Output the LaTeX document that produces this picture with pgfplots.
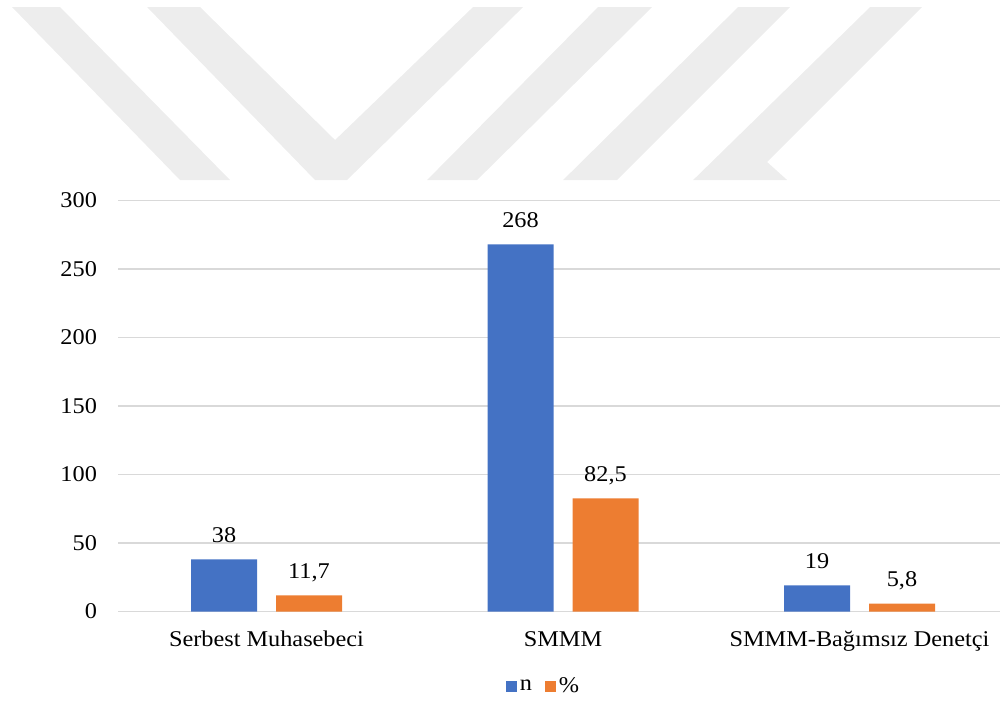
\documentclass[border=0pt]{standalone}
\usepackage{pgfplots}
\pgfplotsset{compat=1.18}
\usepackage{fontspec}
\setmainfont{Liberation Serif}[FakeStretch=1.08]
\definecolor{cblue}{HTML}{4472C4}
\definecolor{corange}{HTML}{ED7D31}
\definecolor{wm}{HTML}{EDEDED}
\definecolor{gridc}{HTML}{D9D9D9}
\begin{document}
\begin{tikzpicture}[font=\fontsize{12.8}{15}\selectfont]
\useasboundingbox (0,0) rectangle (20cm,-14.02cm);
\begin{scope}[x=0.02cm,y=-0.02cm]
\fill[wm] (12,7) -- (60,7) -- (230,180) -- (180,180) -- cycle;
\fill[wm] (147,7) -- (200,7) -- (335,140) -- (473,7) -- (523,7) -- (347,180) -- (315,180) -- cycle;
\fill[wm] (598,7) -- (652,7) -- (477,180) -- (427,180) -- cycle;
\fill[wm] (738,7) -- (790,7) -- (617,180) -- (563,180) -- cycle;
\fill[wm] (870,7) -- (922,7) -- (767,162) -- (787,180) -- (693,180) -- cycle;
\end{scope}
\begin{axis}[
  at={(2.365cm,-12.23cm)}, anchor=south west,
  scale only axis, width=17.79cm, height=8.22cm,
  ybar=0.38cm, bar width=1.32cm,
  ymin=0, ymax=300, ytick={0,50,...,300},
  xmin=-0.5, xmax=2.5, xtick={0,1,2},
  xticklabels={Serbest Muhasebeci, SMMM, SMMM-Bağımsız Denetçi},
  axis line style={draw=none}, major tick length=0pt,
  ymajorgrids, major grid style={draw=gridc, line width=0.9pt},
  /pgf/number format/.cd, use comma, 1000 sep={}, assume math mode=true, /pgfplots/.cd,
  xticklabel style={anchor=base, yshift=-0.7cm},
  yticklabel style={anchor=east, inner sep=0pt, xshift=-0.42cm},
  nodes near coords,
  every node near coord/.append style={anchor=base, yshift=0.34cm, /pgf/number format/assume math mode=true},
  legend style={at={(0.4786,-0.1825)}, anchor=center, draw=none, fill=none,
    legend columns=-1, nodes={inner sep=0.06cm},
    /tikz/every even column/.append style={column sep=0.2cm}},
  legend image code/.code={\fill[#1] (0cm,-0.11cm) rectangle (0.22cm,0.11cm);},
]
\addplot[fill=cblue, draw=none] coordinates {(0,38) (1,268) (2,19)};
\addplot[fill=corange, draw=none] coordinates {(0,11.7) (1,82.5) (2,5.8)};
\legend{n, \%}
\end{axis}
\end{tikzpicture}
\end{document}
